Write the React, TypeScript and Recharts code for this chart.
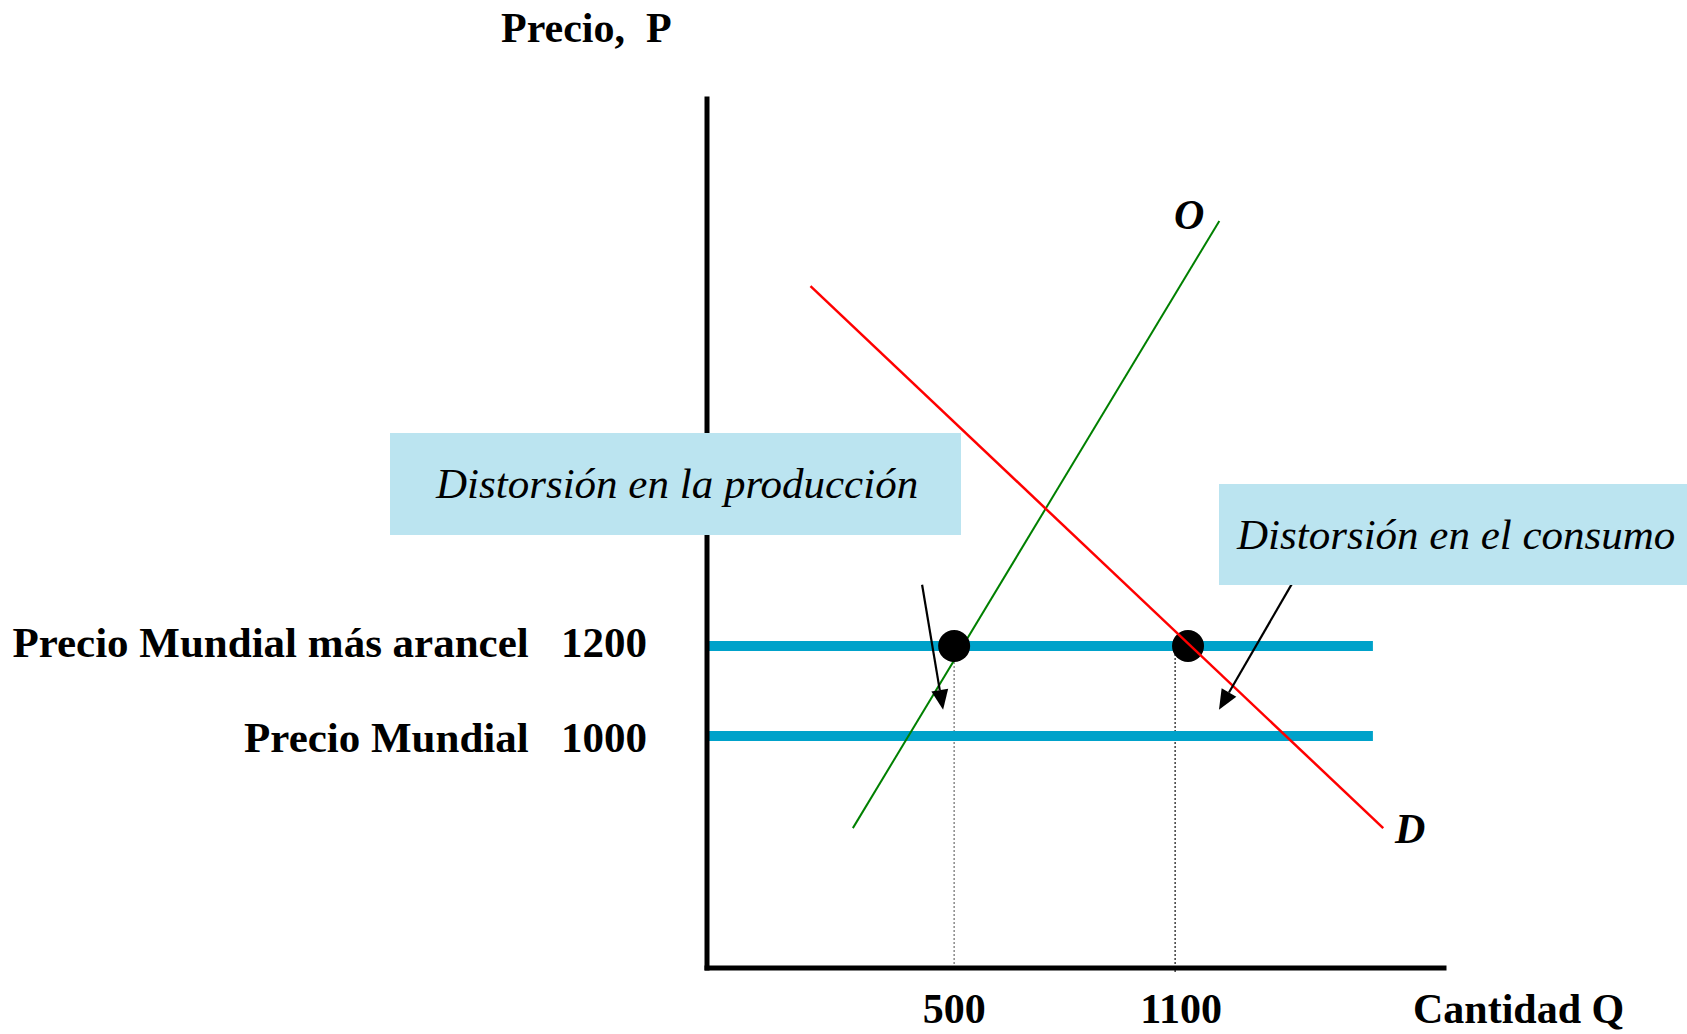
import { LineChart, Line, XAxis, YAxis, Scatter, ReferenceLine } from 'recharts'

const FONT = '"Liberation Serif", "Times New Roman", serif'
const BLUE = '#00A2CA'
const BOX = '#BBE4F0'

// quantity axis (Q) and price axis (P) ranges as drawn (schematic)
const qDomain = [-171, 1830]
const pDomain = [484, 2416]
const qTicks = [500, 1100]
const pTicks = [1000, 1200]
const pTickNames = ['Precio Mundial', 'Precio Mundial más arancel']

// curves
const supply = [{ q: 225, p: 795 }, { q: 1220, p: 2145 }]
const demand = [{ q: 110, p: 2000 }, { q: 1665, p: 795 }]
const worldPrice = [{ q: -171, p: 1000 }, { q: 1637, p: 1000 }]
const tariffPrice = [{ q: -171, p: 1200 }, { q: 1637, p: 1200 }]
const tariffPoints = [{ q: 500, p: 1200 }, { q: 1135, p: 1200 }]

// dotted guides down to the Q axis
const guideQ = [500, 1100]
const guideBottom = [484, 471]

// annotation arrows [from, to]
const arrowProd = [{ x: 413, y: 1336 }, { x: 470, y: 1058 }]
const arrowCons = [{ x: 1417, y: 1338 }, { x: 1219, y: 1058 }]

const Arrow = (props: any) => {
  const { x1, y1, x2, y2 } = props
  const a = Math.atan2(y2 - y1, x2 - x1)
  const len = 20
  const hw = 8.5
  const bx = x2 - len * Math.cos(a)
  const by = y2 - len * Math.sin(a)
  const px = -Math.sin(a) * hw
  const py = Math.cos(a) * hw
  return (
    <g>
      <line x1={x1} y1={y1} x2={bx} y2={by} stroke="#000" strokeWidth={2.2} />
      <polygon points={`${x2},${y2} ${bx + px},${by + py} ${bx - px},${by - py}`} fill="#000" />
    </g>
  )
}

const PriceTick = ({ x, y, payload }: any) => {
  const i = pTicks.indexOf(payload.value)
  return (
    <text x={x - 60} y={y} dy={i === 0 ? 16 : 11} textAnchor="end" xmlSpace="preserve" style={{ whiteSpace: 'pre' }}
      fontFamily={FONT} fontWeight="bold" fontSize={43} fill="#000">
      {`${pTickNames[i]}   ${payload.value}`}
    </text>
  )
}

const QtyTick = ({ x, y, payload }: any) => (
  <text x={x} y={y} dx={payload.value === 1100 ? 6 : 0} dy={55} textAnchor="middle" fontFamily={FONT}
    fontWeight="bold" fontSize={42} fill="#000">
    {payload.value}
  </text>
)

const Label = ({ left, baseline, children, italic = false }: any) => (
  <div style={{
    position: 'absolute', left, top: baseline - 39, fontFamily: FONT, fontSize: 42, lineHeight: '50px',
    fontWeight: 'bold', fontStyle: italic ? 'italic' : 'normal', whiteSpace: 'pre', color: '#000',
  }}>
    {children}
  </div>
)

const Box = ({ left, top, width, height, pad, children }: any) => (
  <div style={{
    position: 'absolute', left, top, width, height, background: BOX, boxSizing: 'border-box',
    paddingLeft: pad, fontFamily: FONT, fontSize: 43, fontStyle: 'italic', lineHeight: `${height}px`,
    whiteSpace: 'nowrap', color: '#000',
  }}>
    {children}
  </div>
)

export default function App() {
  return (
    <div style={{ position: 'absolute', left: 0, top: 0, width: 1687, height: 1034, background: '#fff', overflow: 'hidden' }}>
      <LineChart width={1687} height={1034} margin={{ top: 99, right: 243, bottom: 65, left: 706 }}>
        <XAxis type="number" dataKey="q" domain={qDomain} ticks={qTicks} allowDataOverflow height={1}
          tickSize={0} tickMargin={0} tickLine={false} tick={<QtyTick />} interval={0}
          axisLine={{ stroke: '#000', strokeWidth: 5, strokeLinecap: 'square' }} />
        <YAxis type="number" dataKey="p" domain={pDomain} ticks={pTicks} allowDataOverflow width={1}
          tickSize={0} tickMargin={0} tickLine={false} tick={<PriceTick />} interval={0}
          axisLine={{ stroke: '#000', strokeWidth: 5, strokeLinecap: 'square' }} />
        {guideQ.map((q, i) => (
          <ReferenceLine key={q} segment={[{ x: q, y: 1200 }, { x: q, y: guideBottom[i] }]} ifOverflow="visible"
            stroke={i === 0 ? '#777' : '#222'} strokeWidth={1.3} strokeDasharray="2 2" zIndex={50} />
        ))}
        <Line data={tariffPrice} dataKey="p" stroke={BLUE} strokeWidth={10} dot={false} activeDot={false}
          isAnimationActive={false} zIndex={100} />
        <Line data={worldPrice} dataKey="p" stroke={BLUE} strokeWidth={10} dot={false} activeDot={false}
          isAnimationActive={false} zIndex={100} />
        <Line data={supply} dataKey="p" stroke="#008000" strokeWidth={2} dot={false} activeDot={false}
          isAnimationActive={false} zIndex={200} />
        <Scatter data={tariffPoints} dataKey="p" isAnimationActive={false} zIndex={300}
          shape={(p: any) => <circle cx={p.cx} cy={p.cy} r={16} fill="#000" />} />
        <Line data={demand} dataKey="p" stroke="#FF0000" strokeWidth={2.5} dot={false} activeDot={false}
          isAnimationActive={false} zIndex={400} />
        <ReferenceLine segment={arrowProd} ifOverflow="visible" shape={Arrow} zIndex={500} />
        <ReferenceLine segment={arrowCons} ifOverflow="visible" shape={Arrow} zIndex={500} />
      </LineChart>

      <Label left={501} baseline={42}>Precio,  P</Label>
      <Label left={1413} baseline={1023}>Cantidad Q</Label>
      <Label left={1174} baseline={229} italic>O</Label>
      <Label left={1395} baseline={843} italic>D</Label>

      <Box left={390} top={433} width={571} height={102} pad={46}>Distorsión en la producción</Box>
      <Box left={1219} top={484} width={468} height={101} pad={18}>Distorsión en el consumo</Box>
    </div>
  )
}
